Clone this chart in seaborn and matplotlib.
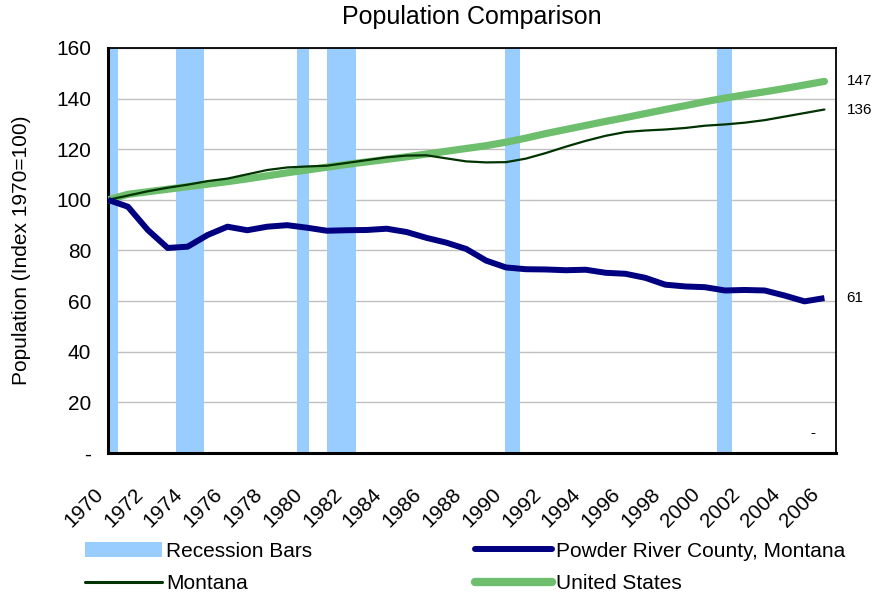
import matplotlib
matplotlib.use("Agg")
import matplotlib.pyplot as plt
import matplotlib.transforms as mtransforms
import seaborn as sns
import pandas as pd
from matplotlib.patches import Patch
from matplotlib.lines import Line2D

# dados
anos = list(range(1970, 2007))

powder_river = [100.0, 97.3, 88.1, 81.0, 81.5, 86.1, 89.4, 88.0, 89.4, 90.0,
                89.0, 87.8, 88.0, 88.1, 88.6, 87.3, 85.0, 83.1, 80.6, 76.0,
                73.3, 72.6, 72.5, 72.2, 72.4, 71.2, 70.8, 69.2, 66.5, 65.8,
                65.5, 64.2, 64.4, 64.2, 62.2, 59.9, 61.2]

montana = [100.0, 101.7, 103.4, 104.8, 106.0, 107.4, 108.4, 110.1, 111.8, 112.8,
           113.2, 113.5, 114.6, 115.7, 116.8, 117.5, 117.6, 116.4, 115.2, 114.8,
           114.9, 116.3, 118.5, 121.0, 123.3, 125.3, 126.8, 127.4, 127.8, 128.4,
           129.3, 129.8, 130.5, 131.5, 132.9, 134.3, 135.7]

estados_unidos = [100.0, 102.2, 103.2, 104.2, 105.2, 106.2, 107.2, 108.3, 109.5, 110.7,
                  111.8, 112.9, 114.0, 115.0, 116.0, 117.0, 118.1, 119.2, 120.3, 121.4,
                  122.8, 124.4, 126.2, 127.8, 129.4, 131.0, 132.5, 134.1, 135.7, 137.2,
                  138.8, 140.2, 141.5, 142.7, 144.0, 145.4, 146.8]

# recessoes (inicio, fim) em anos
recessao_inicio = [1970.0, 1973.4, 1979.5, 1981.0, 1989.95, 2000.6]
recessao_fim = [1970.5, 1974.8, 1980.1, 1982.45, 1990.7, 2001.35]

rotulos_y = ["-", "20", "40", "60", "80", "100", "120", "140", "160"]

df = pd.DataFrame({
    "Ano": anos,
    "Powder River County, Montana": powder_river,
    "Montana": montana,
    "United States": estados_unidos,
})

sns.set_style("white")
plt.rcParams["font.family"] = ["Liberation Sans", "DejaVu Sans"]
plt.rcParams["font.size"] = 15
plt.rcParams["text.color"] = "black"
plt.rcParams["axes.labelcolor"] = "black"
plt.rcParams["xtick.color"] = "black"
plt.rcParams["ytick.color"] = "black"

fig = plt.figure(figsize=(8.76, 5.94), dpi=100)
ax = fig.add_axes([0.1233, 0.2374, 0.9543 - 0.1233, 0.9192 - 0.2374])

cor_recessao = "#99CCFF"
cor_powder = "#000080"
cor_montana = "#003300"
cor_eua = "#6DBE6D"

# barras de recessao
for ini, fim in zip(recessao_inicio, recessao_fim):
    ax.axvspan(ini, fim, color=cor_recessao, lw=0, zorder=1)

sns.lineplot(data=df, x="Ano", y="United States", ax=ax, color=cor_eua, lw=5.2, zorder=3)
sns.lineplot(data=df, x="Ano", y="Montana", ax=ax, color=cor_montana, lw=1.6, zorder=4)
sns.lineplot(data=df, x="Ano", y="Powder River County, Montana", ax=ax, color=cor_powder,
             lw=4.3, zorder=5, solid_capstyle="butt")

ax.set_xlim(1970, 2006.58)
ax.set_ylim(0, 160)
ax.set_yticks(range(0, 161, 20))
ax.set_yticklabels(rotulos_y)
ax.set_xticks(anos[::2])
ax.set_xticklabels([str(a) for a in anos[::2]], rotation=45, ha="right",
                   rotation_mode="anchor")
ax.tick_params(axis="x", direction="out", length=6, width=1.5, pad=16.5)
ax.tick_params(axis="y", direction="out", length=6, width=1.5, pad=6)
desloc = mtransforms.ScaledTranslation(-10.5 / 72, 0, fig.dpi_scale_trans)
for lbl in ax.get_xticklabels():
    lbl.set_transform(lbl.get_transform() + desloc)
ax.yaxis.grid(True, color="#C0C0C0", lw=1, zorder=0)
ax.set_axisbelow(True)

for lado in ["left", "bottom"]:
    ax.spines[lado].set_linewidth(2.2)
for lado in ["top", "right"]:
    ax.spines[lado].set_linewidth(1.3)
for s in ax.spines.values():
    s.set_color("black")

ax.set_xlabel("")
ax.set_ylabel("Population (Index 1970=100)", labelpad=18)
ax.set_title("Population Comparison", pad=17)

# rotulos no fim das series
for serie in [estados_unidos, montana, powder_river]:
    ax.annotate(f"{serie[-1]:.0f}", xy=(anos[-1], serie[-1]), xytext=(16, 0),
                textcoords="offset points", va="center", ha="left", fontsize=11,
                annotation_clip=False)
ax.text(2005.4, 8, "-", ha="center", va="center", fontsize=11)

# legenda
handles = [
    Patch(facecolor=cor_recessao, edgecolor="none"),
    Line2D([], [], color=cor_montana, lw=2.2),
    Line2D([], [], color=cor_powder, lw=4.3),
    Line2D([], [], color=cor_eua, lw=6),
]
labels = ["Recession Bars", "Montana", "Powder River County, Montana", "United States"]
fig.legend(handles, labels, loc="upper left", bbox_to_anchor=(0.097, 0.088),
           ncol=2, frameon=False, borderpad=0, borderaxespad=0, handlelength=3.7,
           handletextpad=0.2, columnspacing=7.8, labelspacing=0.65, fontsize=15)

fig.savefig("out.png", dpi=100)
